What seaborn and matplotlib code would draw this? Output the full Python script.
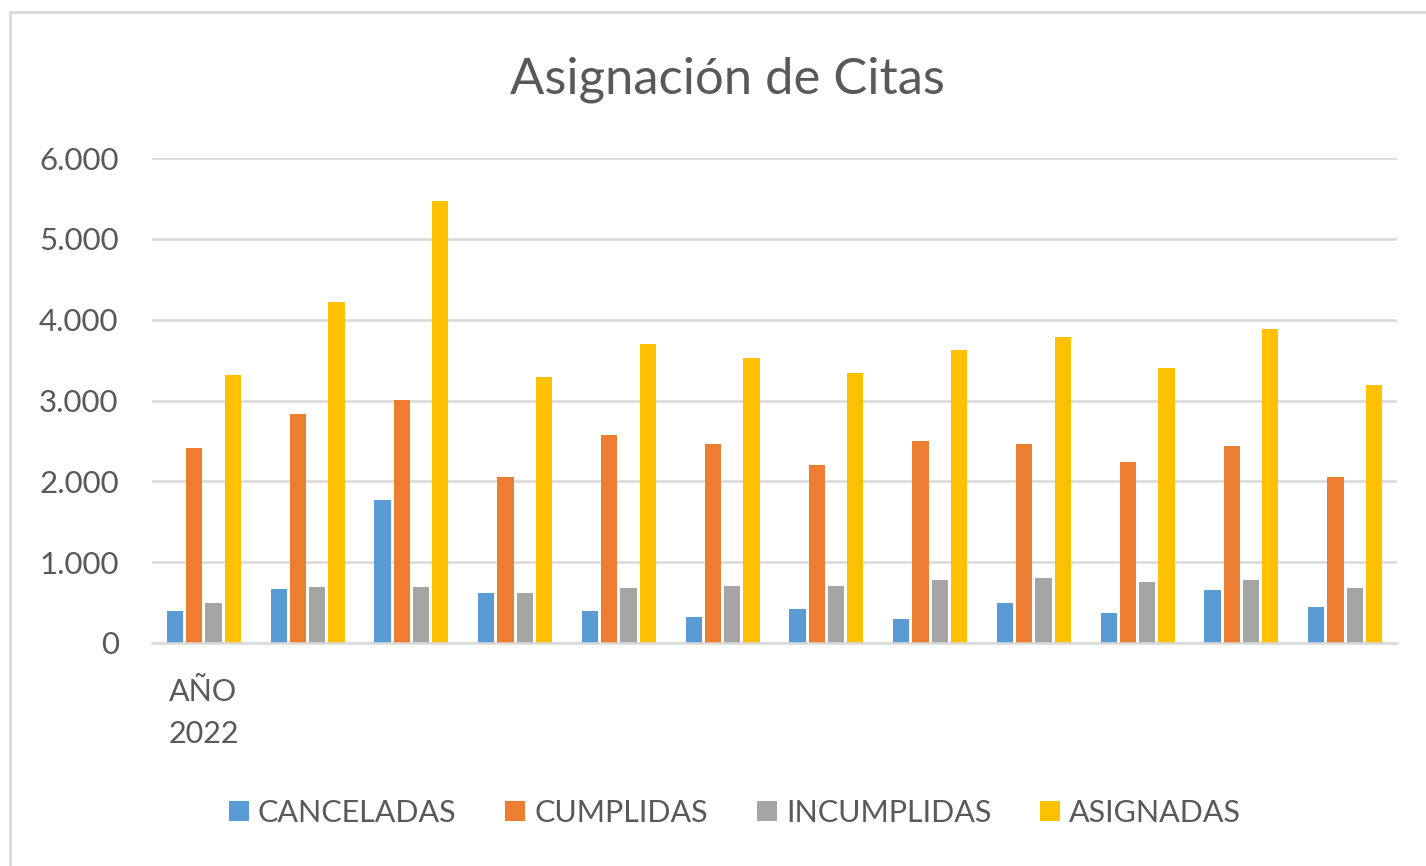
import pandas as pd
import matplotlib.pyplot as plt
import seaborn as sns
from matplotlib.patches import Rectangle
from matplotlib.ticker import FuncFormatter, MultipleLocator


# datos (12 periodos, solo el primero tiene etiqueta)
periodos = [str(i) for i in range(1, 13)]
etiquetas_x = ["AÑO\n2022"] + [""] * 11
series = ["CANCELADAS", "CUMPLIDAS", "INCUMPLIDAS", "ASIGNADAS"]

canceladas = [400, 663, 1773, 614, 398, 327, 418, 299, 489, 373, 659, 443]
cumplidas = [2415, 2837, 3006, 2058, 2575, 2458, 2197, 2504, 2458, 2243, 2433, 2056]
incumplidas = [497, 688, 688, 614, 684, 704, 704, 775, 800, 750, 775, 679]
asignadas = [3310, 4216, 5471, 3288, 3694, 3524, 3337, 3619, 3785, 3408, 3880, 3192]

colores = ["#5B9BD5", "#ED7D31", "#A5A5A5", "#FFC000"]

df = pd.DataFrame({
    "periodo": periodos * 4,
    "serie": [s for s in series for _ in periodos],
    "valor": canceladas + cumplidas + incumplidas + asignadas,
})

sns.set_style("white")
plt.rcParams["font.family"] = ["Lato", "DejaVu Sans"]
texto = "#595959"

fig = plt.figure(figsize=(14.26, 8.66), dpi=100)
fig.patch.set_facecolor("white")

# marco del area del grafico
fig.patches.append(Rectangle((10 / 1426, -0.05), 1.05, 1 - 12 / 866 + 0.05,
                             transform=fig.transFigure, facecolor="white",
                             edgecolor="#D9D9D9", linewidth=2, zorder=-5))

ax = fig.add_axes([152 / 1426, 1 - 643 / 866, 1245 / 1426, 485 / 866])
ax.set_facecolor("none")

sns.barplot(data=df, x="periodo", y="valor", hue="serie", order=periodos,
            hue_order=series, palette=colores, saturation=1, width=0.74, gap=0.15,
            linewidth=0, ax=ax)

ax.set_ylim(0, 6000)
ax.set_xlim(-0.5, 11.5)
ax.yaxis.set_major_locator(MultipleLocator(1000))
ax.yaxis.set_major_formatter(FuncFormatter(lambda v, p: f"{int(v):,}".replace(",", ".")))
ax.grid(axis="y", color="#D9D9D9", linewidth=1.8)
ax.set_axisbelow(True)
for s in ["top", "right", "left"]:
    ax.spines[s].set_visible(False)
ax.spines["bottom"].set_color("#D9D9D9")
ax.spines["bottom"].set_linewidth(1.8)

ax.set_xticks(range(12))
ax.set_xticklabels(etiquetas_x, fontsize=22, color=texto, linespacing=1.6,
                   multialignment="left")
ax.tick_params(axis="x", length=0, pad=25)
ax.tick_params(axis="y", length=0, pad=24, labelsize=22.5, labelcolor=texto)
ax.set_xlabel("")
ax.set_ylabel("")

fig.text(727 / 1426, 1 - 80 / 866, "Asignación de Citas", ha="center", va="center",
         fontsize=36.5, color=texto)

handles, labels = ax.get_legend_handles_labels()
ax.get_legend().remove()
fig.legend(handles, labels, loc="center", bbox_to_anchor=(735 / 1426, 1 - 813 / 866),
           ncol=4, frameon=False, fontsize=22, labelcolor=texto,
           handlelength=0.65, handleheight=0.65, handletextpad=0.3, columnspacing=1.6)

plt.savefig("out.png", dpi=100)
